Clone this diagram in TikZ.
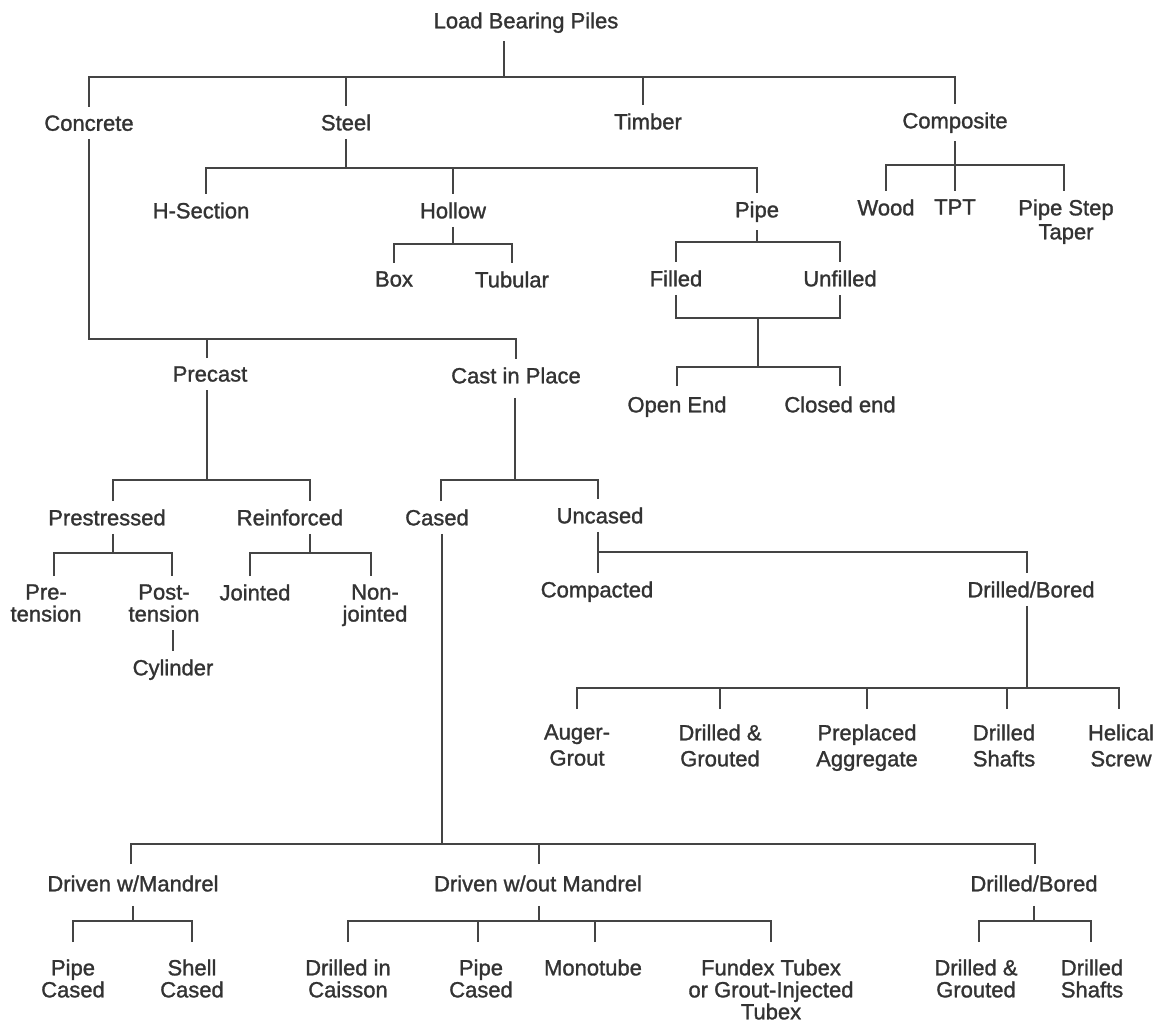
\documentclass[tikz,border=0pt]{standalone}
\usepackage{fontspec}
\setmainfont{Liberation Sans}[BoldFont={Liberation Sans},BoldFeatures={FakeBold=1.3}]
\definecolor{txt}{HTML}{333333}
\definecolor{linec}{HTML}{444444}
\begin{document}
\begin{tikzpicture}[x=0.5pt,y=-0.5pt,
  lbl/.style={anchor=north, yshift=8pt, inner sep=4pt, align=center, text=txt,
    font=\fontsize{11}{11}\selectfont\bfseries},
  lbltall/.style={lbl, font=\fontsize{11}{13}\selectfont\bfseries},
  lblmid/.style={lbl, font=\fontsize{11}{12}\selectfont\bfseries},
  ln/.style={draw=linec, line width=0.85pt, line join=miter}]
\useasboundingbox[fill=white] (0,0) rectangle (1160,1026);

% ---------- nodes ----------
\node[lbl] (lbp) at (526,20) {Load Bearing Piles};
\node[lbl] (concrete) at (89,123) {Concrete};
\node[lbl] (steel) at (346,122) {Steel};
\node[lbl] (timber) at (648,121) {Timber};
\node[lbl] (composite) at (955,120) {Composite};

\node[lbl] (hsec) at (201,210) {H-Section};
\node[lbl] (hollow) at (453,210) {Hollow};
\node[lbl] (pipe) at (757,209) {Pipe};
\node[lbl] (wood) at (886,207) {Wood};
\node[lbl] (tpt) at (955,207) {TPT};
\node[lblmid] (pst) at (1066,207) {Pipe Step\\Taper};

\node[lbl] (box) at (394,279) {Box};
\node[lbl] (tubular) at (512,279) {Tubular};
\node[lbl] (filled) at (676,278) {Filled};
\node[lbl] (unfilled) at (840,278) {Unfilled};
\node[lbl] (openend) at (677,404) {Open End};
\node[lbl] (closedend) at (840,404) {Closed end};

\node[lbl] (precast) at (210,374) {Precast};
\node[lbl] (cip) at (516,375) {Cast in Place};

\node[lbl] (prestressed) at (107,517) {Prestressed};
\node[lbl] (reinforced) at (290,517) {Reinforced};
\node[lbl] (cased) at (437,517) {Cased};
\node[lbl] (uncased) at (600,515) {Uncased};

\node[lbl] (pre) at (46,592) {Pre-\\tension};
\node[lbl] (post) at (164,592) {Post-\\tension};
\node[lbl] (jointed) at (255,592) {Jointed};
\node[lbl] (nonjointed) at (375,592) {Non-\\jointed};
\node[lbl] (cylinder) at (173,667) {Cylinder};

\node[lbl] (compacted) at (597,589) {Compacted};
\node[lbl] (dbu) at (1031,589) {Drilled/Bored};

\node[lbltall] (auger) at (577,732) {Auger-\\Grout};
\node[lbltall] (dgu) at (720,732) {Drilled \&\\Grouted};
\node[lbltall] (preplaced) at (867,732) {Preplaced\\Aggregate};
\node[lbltall] (dsu) at (1004,732) {Drilled\\Shafts};
\node[lbltall] (helical) at (1121,732) {Helical\\Screw};

\node[lbl] (dwm) at (133,883) {Driven w/Mandrel};
\node[lbl] (dwom) at (538,883) {Driven w/out Mandrel};
\node[lbl] (dbc) at (1034,883) {Drilled/Bored};

\node[lbl] (pcm) at (73,967) {Pipe\\Cased};
\node[lbl] (sc) at (192,967) {Shell\\Cased};
\node[lbl] (dic) at (348,967) {Drilled in\\Caisson};
\node[lbl] (pcw) at (481,967) {Pipe\\Cased};
\node[lbl] (mono) at (593,967) {Monotube};
\node[lbl] (fundex) at (771,967) {Fundex Tubex\\or Grout-Injected\\Tubex};
\node[lbl] (dgc) at (976,967) {Drilled \&\\Grouted};
\node[lbl] (dsc) at (1092,967) {Drilled\\Shafts};

% ---------- bus levels ----------
\coordinate (b1) at (0,77);
\coordinate (b2) at (0,168);
\coordinate (b3) at (0,165);
\coordinate (b4) at (0,244);
\coordinate (b5) at (0,242);
\coordinate (b6) at (0,318);
\coordinate (b7) at (0,367);
\coordinate (b8) at (0,339);
\coordinate (b9) at (0,480);
\coordinate (b11) at (0,553);
\coordinate (b13) at (0,552);
\coordinate (b14) at (0,688);
\coordinate (b15) at (0,844);
\coordinate (b16) at (0,921);
\coordinate (fu) at (758,318);

% ---------- connectors ----------
% root
\draw[ln] ([xshift=-11pt]lbp.south) -- ([xshift=-11pt]lbp.south |- b1);
\draw[ln] (concrete.north) -- (concrete.north |- b1) -- (composite.north |- b1) -- (composite.north);
\draw[ln] (steel.north) -- (steel.north |- b1);
\draw[ln] ([xshift=-2.5pt]timber.north) -- ([xshift=-2.5pt]timber.north |- b1);
% steel
\draw[ln] (steel.south) -- (steel.south |- b2);
\draw[ln] ([xshift=2.5pt]hsec.north) -- ([xshift=2.5pt]hsec.north |- b2) -- (pipe.north |- b2) -- (pipe.north);
\draw[ln] (hollow.north) -- (hollow.north |- b2);
% composite
\draw[ln] (composite.south) -- (composite.south |- b3);
\draw[ln] (wood.north) -- (wood.north |- b3) -- ([xshift=-1pt]pst.north |- b3) -- ([xshift=-1pt]pst.north);
\draw[ln] (tpt.north) -- (tpt.north |- b3);
% hollow
\draw[ln] (hollow.south) -- (hollow.south |- b4);
\draw[ln] (box.north) -- (box.north |- b4) -- (tubular.north |- b4) -- (tubular.north);
% pipe
\draw[ln] (pipe.south) -- (pipe.south |- b5);
\draw[ln] (filled.north) -- (filled.north |- b5) -- (unfilled.north |- b5) -- (unfilled.north);
\draw[ln] (filled.south) -- (filled.south |- b6) -- (unfilled.south |- b6) -- (unfilled.south);
\draw[ln] (fu) -- (fu |- b7);
\draw[ln,shorten <=1pt,shorten >=1pt] (openend.north) -- (openend.north |- b7) -- (closedend.north |- b7) -- (closedend.north);
% concrete
\draw[ln] (concrete.south) -- (concrete.south |- b8) -- (cip.north |- b8) -- (cip.north);
\draw[ln] ([xshift=-1.5pt]precast.north) -- ([xshift=-1.5pt]precast.north |- b8);
% precast
\draw[ln] ([xshift=-1.5pt]precast.south) -- ([xshift=-1.5pt]precast.south |- b9);
\draw[ln] ([xshift=3pt]prestressed.north) -- ([xshift=3pt]prestressed.north |- b9) -- ([xshift=10pt]reinforced.north |- b9) -- ([xshift=10pt]reinforced.north);
% cast in place
\draw[ln,shorten <=3pt] ([xshift=-0.5pt]cip.south) -- ([xshift=-0.5pt]cip.south |- b9);
\draw[ln] ([xshift=2pt]cased.north) -- ([xshift=2pt]cased.north |- b9) -- ([xshift=-1pt]uncased.north |- b9) -- ([xshift=-1pt]uncased.north);
% prestressed
\draw[ln] ([xshift=3pt]prestressed.south) -- ([xshift=3pt]prestressed.south |- b11);
\draw[ln] ([xshift=4pt]pre.north) -- ([xshift=4pt]pre.north |- b11) -- ([xshift=4pt]post.north |- b11) -- ([xshift=4pt]post.north);
% reinforced
\draw[ln] ([xshift=10pt]reinforced.south) -- ([xshift=10pt]reinforced.south |- b11);
\draw[ln] ([xshift=-2.5pt]jointed.north) -- ([xshift=-2.5pt]jointed.north |- b11) -- ([xshift=-2pt]nonjointed.north |- b11) -- ([xshift=-2pt]nonjointed.north);
% post-tension to cylinder
\draw[ln] (cylinder.north |- post.south) -- (cylinder.north);
% uncased
\draw[ln] ([xshift=-1pt]uncased.south) -- ([xshift=-1pt]uncased.south |- compacted.north);
\draw[ln] ([xshift=-1pt]uncased.south |- b13) -- ([xshift=-2pt]dbu.north |- b13) -- ([xshift=-2pt]dbu.north);
% drilled/bored (uncased)
\draw[ln] ([xshift=-2pt]dbu.south) -- ([xshift=-2pt]dbu.south |- b14);
\draw[ln,shorten <=3.5pt,shorten >=3.5pt] (auger.north) -- (auger.north |- b14) -- ([xshift=-1pt]helical.north |- b14) -- ([xshift=-1pt]helical.north);
\draw[ln,shorten <=3.5pt] (dgu.north) -- (dgu.north |- b14);
\draw[ln,shorten <=3.5pt] (preplaced.north) -- (preplaced.north |- b14);
\draw[ln,shorten <=3.5pt] ([xshift=1.5pt]dsu.north) -- ([xshift=1.5pt]dsu.north |- b14);
% cased
\draw[ln] ([xshift=2.5pt]cased.south) -- ([xshift=2.5pt]cased.south |- b15);
\draw[ln,shorten <=1.5pt,shorten >=1.5pt] ([xshift=-1pt]dwm.north) -- ([xshift=-1pt]dwm.north |- b15) -- ([xshift=0.5pt]dbc.north |- b15) -- ([xshift=0.5pt]dbc.north);
\draw[ln,shorten <=1.5pt] ([xshift=0.5pt]dwom.north) -- ([xshift=0.5pt]dwom.north |- b15);
% driven w/mandrel
\draw[ln,shorten <=3pt] (dwm.south) -- (dwm.south |- b16);
\draw[ln,shorten <=4.5pt,shorten >=4.5pt] (pcm.north) -- (pcm.north |- b16) -- (sc.north |- b16) -- (sc.north);
% driven w/out mandrel
\draw[ln,shorten <=3pt] ([xshift=0.5pt]dwom.south) -- ([xshift=0.5pt]dwom.south |- b16);
\draw[ln,shorten <=4.5pt,shorten >=4.5pt] (dic.north) -- (dic.north |- b16) -- (fundex.north |- b16) -- (fundex.north);
\draw[ln,shorten <=4.5pt] ([xshift=-1.5pt]pcw.north) -- ([xshift=-1.5pt]pcw.north |- b16);
\draw[ln,shorten <=4.5pt] ([xshift=1pt]mono.north) -- ([xshift=1pt]mono.north |- b16);
% drilled/bored (cased)
\draw[ln,shorten <=3pt] (dbc.south) -- (dbc.south |- b16);
\draw[ln,shorten <=4.5pt,shorten >=4.5pt] ([xshift=1.5pt]dgc.north) -- ([xshift=1.5pt]dgc.north |- b16) -- ([xshift=-0.5pt]dsc.north |- b16) -- ([xshift=-0.5pt]dsc.north);
\end{tikzpicture}
\end{document}
